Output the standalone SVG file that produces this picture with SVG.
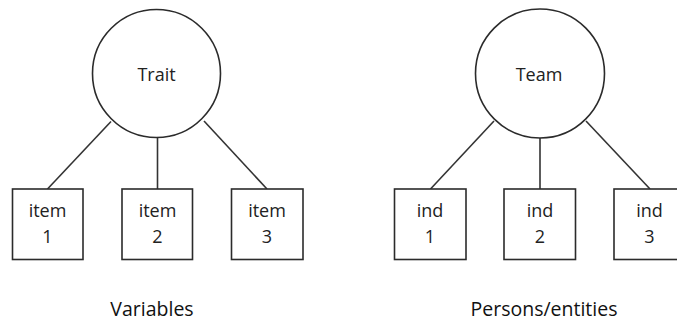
<svg xmlns="http://www.w3.org/2000/svg" width="677" height="321" viewBox="0 0 677 321">
<style>
.shape{fill:#fff;stroke:#2b2b2b;stroke-width:1.6}
.edge{stroke:#333;stroke-width:1.6;fill:none}
.t{font-family:"Open Sans","Liberation Sans",sans-serif;font-size:18px;fill:#222;text-anchor:middle}
.lbl{font-family:"Open Sans","Liberation Sans",sans-serif;font-size:19.5px;fill:#111;text-anchor:middle}
</style>
<rect width="677" height="321" fill="#fff"/>
<g id="connectors">
<line class="edge" x1="111" y1="121.5" x2="47.5" y2="189"/>
<line class="edge" x1="157.5" y1="137.5" x2="157.5" y2="189"/>
<line class="edge" x1="204" y1="121" x2="267" y2="189"/>
<line class="edge" x1="494" y1="121" x2="430.5" y2="189"/>
<line class="edge" x1="540" y1="138" x2="540" y2="189"/>
<line class="edge" x1="586" y1="121" x2="650" y2="189"/>
</g>
<g id="trait"><circle class="shape" cx="156.5" cy="73.5" r="64"/><text class="t" x="156.5" y="80.5">Trait</text></g>
<g id="item1"><rect class="shape" x="12.5" y="189" width="70.5" height="70.5"/><text class="t" x="47.5" y="217">item</text><text class="t" x="47.5" y="243">1</text></g>
<g id="item2"><rect class="shape" x="122" y="189" width="70.5" height="70.5"/><text class="t" x="157.5" y="217">item</text><text class="t" x="157.5" y="243">2</text></g>
<g id="item3"><rect class="shape" x="231.5" y="189" width="71.5" height="70.5"/><text class="t" x="267" y="217">item</text><text class="t" x="267" y="243">3</text></g>
<g id="team"><circle class="shape" cx="540" cy="73.5" r="64.5"/><text class="t" x="539" y="80.5">Team</text></g>
<g id="ind1"><rect class="shape" x="394.5" y="189" width="71.5" height="70.5"/><text class="t" x="430" y="217">ind</text><text class="t" x="430" y="243">1</text></g>
<g id="ind2"><rect class="shape" x="504" y="189" width="71.5" height="70.5"/><text class="t" x="540" y="217">ind</text><text class="t" x="540" y="243">2</text></g>
<g id="ind3"><rect class="shape" x="614" y="189" width="72" height="70.5"/><text class="t" x="649.5" y="217">ind</text><text class="t" x="649.5" y="243">3</text></g>
<g id="labels">
<text class="lbl" x="152" y="316">Variables</text>
<text class="lbl" x="544" y="316">Persons/entities</text>
</g>
</svg>
